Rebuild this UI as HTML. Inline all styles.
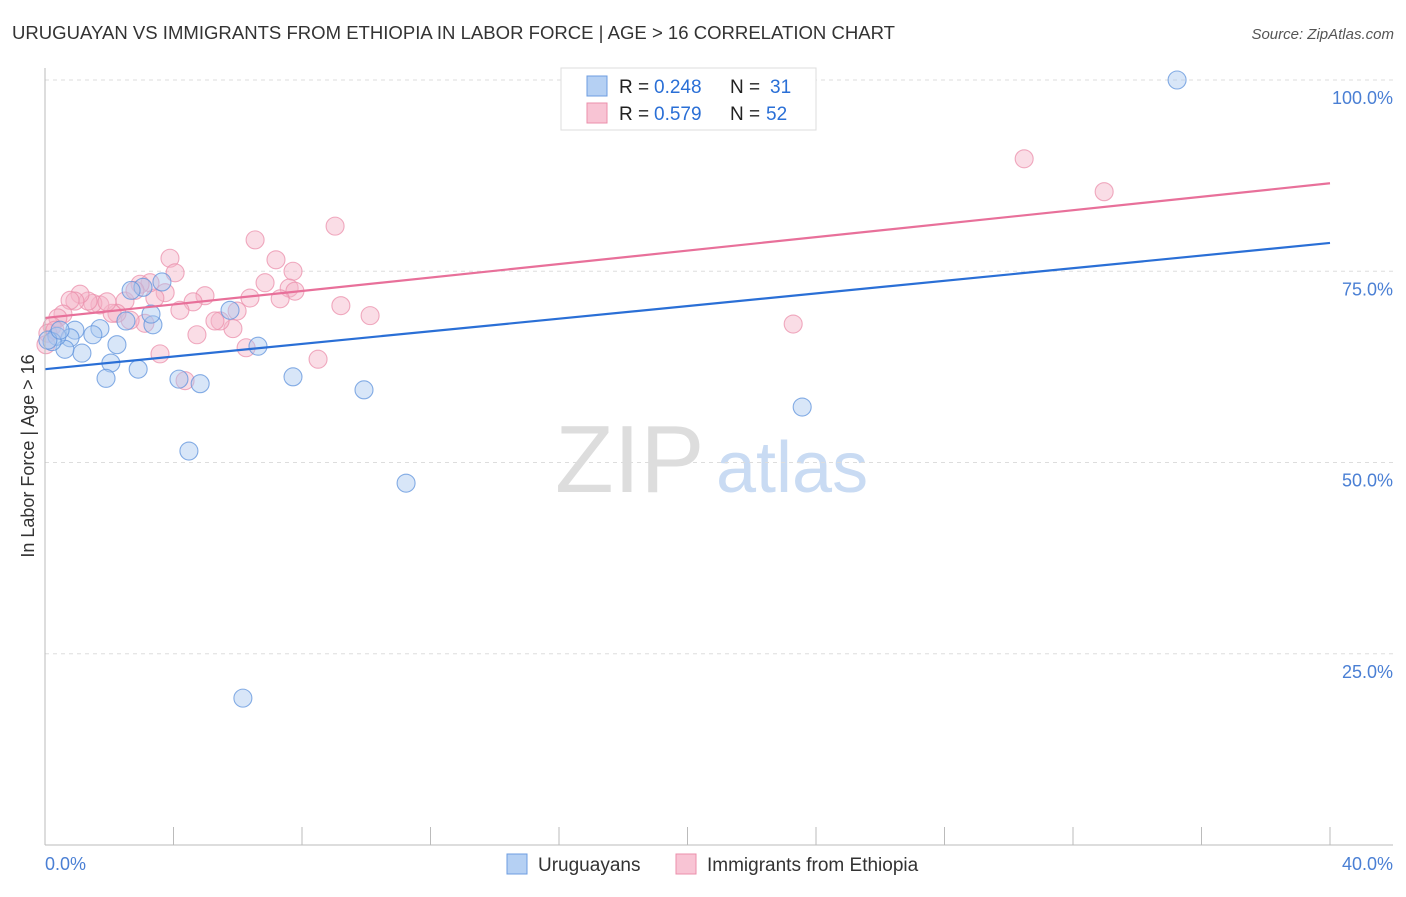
<!DOCTYPE html>
<html><head><meta charset="utf-8"><style>
body{margin:0;background:#fff;font-family:"Liberation Sans",sans-serif}
svg text{font-family:"Liberation Sans",sans-serif}
</style></head><body>
<svg id="c" width="1406" height="892" xmlns="http://www.w3.org/2000/svg">
<text x="12" y="39" font-size="18" fill="#333" textLength="883" lengthAdjust="spacingAndGlyphs">URUGUAYAN VS IMMIGRANTS FROM ETHIOPIA IN LABOR FORCE | AGE &gt; 16 CORRELATION CHART</text>
<text x="1394" y="39" font-size="15" fill="#555" font-style="italic" text-anchor="end">Source: ZipAtlas.com</text>
<text x="0" y="0" transform="translate(34,456) rotate(-90)" font-size="18" fill="#333" text-anchor="middle">In Labor Force | Age &gt; 16</text>
<g>
<text x="555" y="492" font-size="96" fill="#ddd" font-family="Liberation Serif,serif">ZIP</text>
<text x="716" y="492" font-size="72" fill="#c9dbf3">atlas</text>
</g>
<g id="grid"></g><g id="marks"></g>
<line x1="45" y1="68" x2="45" y2="845" stroke="#bbb"/>
<line x1="45" y1="845" x2="1393" y2="845" stroke="#bbb"/>
<text x="45" y="870" font-size="18" fill="#4a7fd4">0.0%</text>
<text x="1393" y="870" font-size="18" fill="#4a7fd4" text-anchor="end">40.0%</text>
<g>
<rect x="561" y="68" width="255" height="62" fill="#fff" stroke="#ddd"/>
<rect x="587" y="76" width="20" height="20" fill="#b5d0f3" stroke="#6d9de0"/>
<rect x="587" y="103" width="20" height="20" fill="#f8c4d4" stroke="#eb8fab"/>
<text x="619" y="93" font-size="19" fill="#222">R = </text><text x="654" y="93" font-size="19" fill="#2a6fd6">0.248</text>
<text x="730" y="93" font-size="19" fill="#222">N = </text><text x="770" y="93" font-size="19" fill="#2a6fd6">31</text>
<text x="619" y="120" font-size="19" fill="#222">R = </text><text x="654" y="120" font-size="19" fill="#2a6fd6">0.579</text>
<text x="730" y="120" font-size="19" fill="#222">N = </text><text x="766" y="120" font-size="19" fill="#2a6fd6">52</text>
</g>
<g>
<rect x="507" y="854" width="20" height="20" fill="#b5d0f3" stroke="#6d9de0"/>
<text x="538" y="871" font-size="19" fill="#333">Uruguayans</text>
<text x="707" y="871" font-size="19" fill="#333">Immigrants from Ethiopia</text>
<rect x="676" y="854" width="20" height="20" fill="#f8c4d4" stroke="#eb8fab"/>
</g>
</svg>
<script>
const yTicks=[25,50,75,100];
const yTickLabels=["25.0%","50.0%","75.0%","100.0%"];
const xTicks=[0,4,8,12,16,20,24,28,32,36,40];
const blueX=[35.24,23.57,11.24,9.93,7.72,6.63,5.76,4.48,6.16,4.83,4.17,3.36,3.30,3.64,3.05,2.68,2.90,2.52,2.24,2.05,1.90,1.71,1.49,1.15,0.93,0.78,0.62,0.37,0.22,0.09,0.47];
const blueY=[100.0,57.25,47.3,59.5,61.2,65.2,69.9,51.5,19.2,60.3,60.9,68.0,69.4,73.6,72.9,72.5,62.2,68.5,65.4,63.0,61.0,67.5,66.7,64.3,67.3,66.3,64.8,66.5,65.8,66.0,67.3];
const pinkX=[30.48,32.97,23.29,9.03,6.54,7.19,7.72,6.85,7.60,7.78,6.38,7.32,9.21,10.12,8.50,5.98,6.26,5.85,5.45,5.29,4.98,4.61,4.20,3.89,4.05,3.74,3.42,3.27,2.96,3.11,3.58,4.36,4.73,2.49,2.65,2.24,2.09,1.71,1.49,1.34,1.09,0.93,0.78,0.56,0.40,0.22,0.09,0.03,2.80,1.93,0.31];
const pinkY=[89.7,85.4,68.1,80.9,79.1,76.5,75.0,73.5,72.8,72.4,71.5,71.4,70.5,69.2,63.5,69.8,65.0,67.5,68.5,68.5,71.8,71.0,69.9,76.7,74.8,72.2,71.5,73.5,73.3,68.2,64.2,60.7,66.7,71.1,68.6,69.5,69.5,70.6,70.8,71.1,72.0,71.1,71.2,69.4,68.9,67.8,66.9,65.4,72.5,71.0,67.3];
const blueTrend=[62.2,78.7];
const pinkTrend=[68.9,86.5];
const trendX=[0,40];
const NS="http://www.w3.org/2000/svg";
const sx=v=>45+v/40*1285;
const sy=v=>845-v*7.65;
function mk(t,a,p){const e=document.createElementNS(NS,t);for(const k in a)e.setAttribute(k,a[k]);p.appendChild(e);return e;}
const grid=document.getElementById('grid'),marks=document.getElementById('marks');
yTicks.forEach((t,i)=>{
 const l=mk('line',{x1:45,x2:1393,y1:sy(t),y2:sy(t),stroke:'#ddd','stroke-dasharray':'4,4'},grid);
 
 
 const tx=mk('text',{x:1393,y:sy(t)+24,'font-size':18,fill:'#4a7fd4','text-anchor':'end'},grid);
 tx.textContent=yTickLabels[i];
 
 
});
xTicks.forEach(t=>{
 const l=mk('line',{x1:sx(t),x2:sx(t),y1:827,y2:845,stroke:'#bbb'},grid);
 
 
});
function pts(X,Y,fill,stroke,name){
 X.forEach((x,i)=>{
  const c=mk('circle',{cx:sx(x),cy:sy(Y[i]),r:9,fill:fill,'fill-opacity':0.45,stroke:stroke,'stroke-opacity':0.75,'stroke-width':1.1},marks);
  
  
 });
}
pts(pinkX,pinkY,'#f5b3c8','#eb8fab','ethiopia-point');
pts(blueX,blueY,'#a9c8f0','#5f93dc','uruguayan-point');
const bl=mk('line',{x1:sx(trendX[0]),y1:sy(blueTrend[0]),x2:sx(trendX[1]),y2:sy(blueTrend[1]),stroke:'#2a6fd6','stroke-width':2.2},marks);


const pl=mk('line',{x1:sx(trendX[0]),y1:sy(pinkTrend[0]),x2:sx(trendX[1]),y2:sy(pinkTrend[1]),stroke:'#e8709a','stroke-width':2.2},marks);


</script>
</body></html>
